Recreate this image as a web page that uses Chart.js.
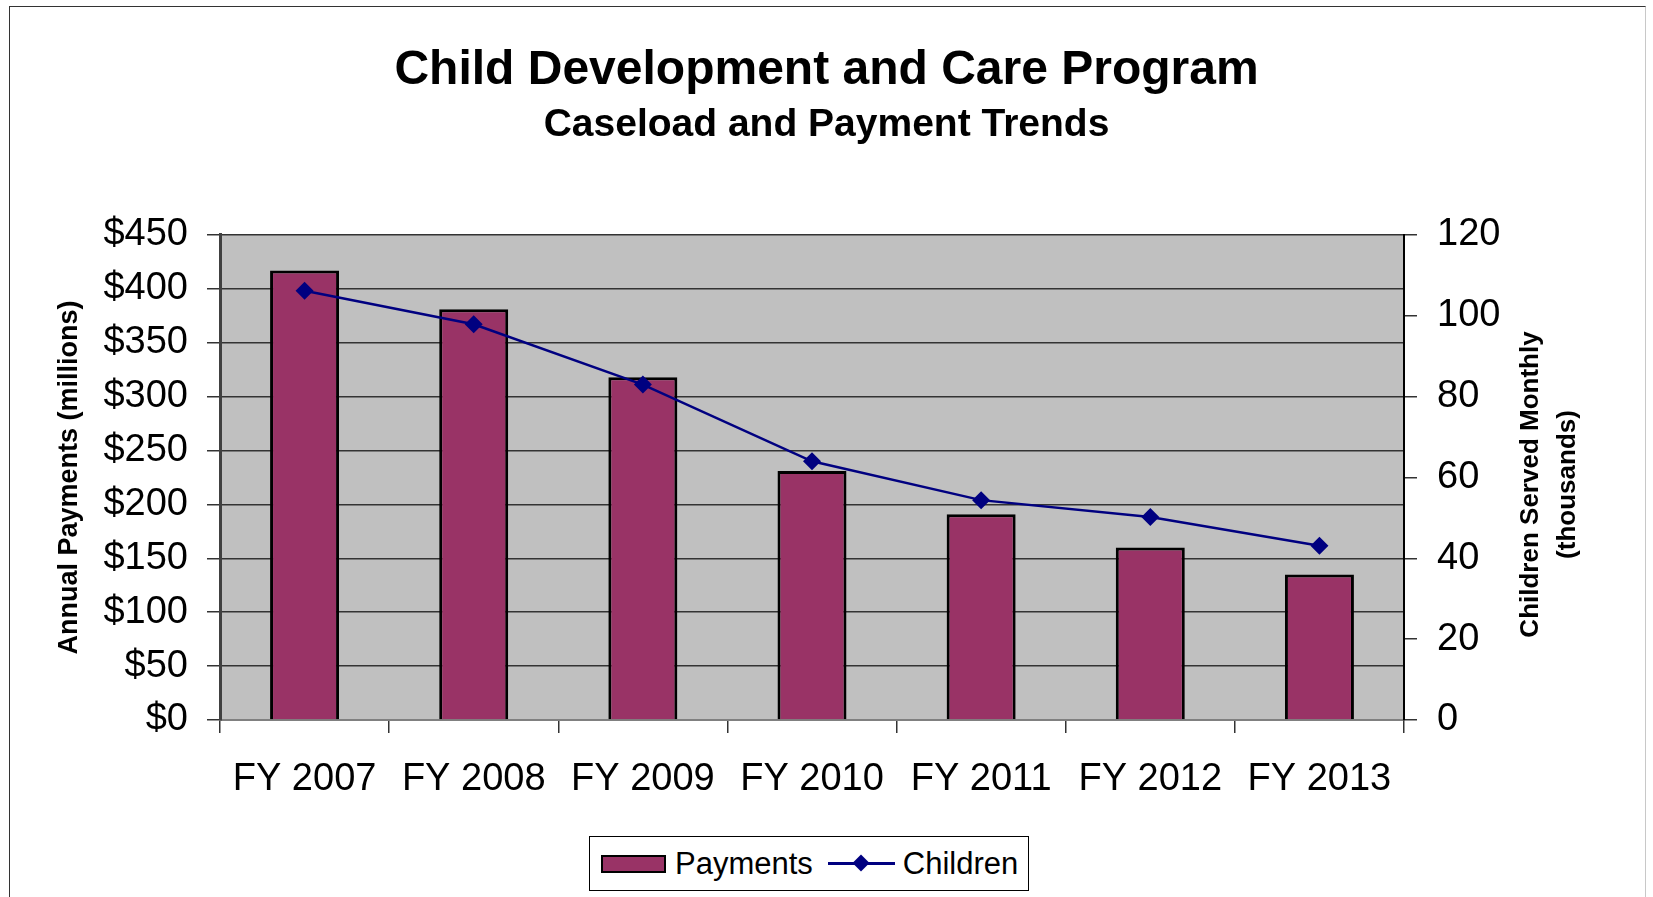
<!DOCTYPE html>
<html>
<head>
<meta charset="utf-8">
<title>Child Development and Care Program</title>
<script src="https://cdn.jsdelivr.net/npm/chart.js@4.4.1/dist/chart.umd.min.js"></script>
<style>
    body { margin: 0; background: #ffffff; font-family: 'Liberation Sans', Arial, sans-serif; }
    #frame {
        position: absolute; left: 9px; top: 6px; width: 1635px; height: 1000px;
        border-left: 1.5px solid #333; border-top: 1.5px solid #333; border-right: 1.5px solid #c8c8c8;
    }
    #wrap { position: absolute; left: 0; top: 0; width: 1653px; height: 897px; }
    #legend {
        position: absolute; left: 589px; top: 836px; width: 438px; height: 53px;
        border: 1.5px solid #000; background: #fff;
        display: flex; align-items: center; font-size: 31px; color: #000;
    }
    .swatch { width: 61px; height: 14px; border: 2px solid #000; margin-left: 11px; margin-right: 9px; }
    .linekey { position: relative; width: 67px; height: 3px; margin-left: 15px; margin-right: 8px; }
    .linekey .diamond {
        position: absolute; left: 27px; top: -5px; width: 12px; height: 12px; transform: rotate(45deg);
    }
</style>
</head>
<body>
<div id="frame"></div>
<div id="wrap"><canvas id="chart"></canvas></div>
<div id="legend"></div>
<script>
// Caseload and payment trends, FY 2007 - FY 2013

const years = ['FY 2007', 'FY 2008', 'FY 2009', 'FY 2010', 'FY 2011', 'FY 2012', 'FY 2013'];
const payments = [417, 381, 318, 231, 191, 160, 135];          // $ millions
const children = [106.2, 97.9, 83.0, 64.0, 54.4, 50.2, 43.1];   // thousands per month

const paymentTicks = { min: 0, max: 450, step: 50 };
const childrenTicks = { min: 0, max: 120, step: 20 };

const barColor = '#993366';
const lineColor = '#000080';

Chart.defaults.font.family = "'Liberation Sans', Arial, sans-serif";
Chart.defaults.color = '#000000';

const plotBackground = {
    id: 'plotBackground',
    beforeDraw(chart) {
        const { ctx, chartArea } = chart;
        ctx.save();
        ctx.fillStyle = '#c0c0c0';
        ctx.fillRect(chartArea.left, chartArea.top, chartArea.right - chartArea.left, chartArea.bottom - chartArea.top);
        ctx.restore();
    }
};

// right axis title reads bottom-to-top like the left one
const rightTitle = {
    id: 'rightTitle',
    afterDraw(chart) {
        const { ctx, chartArea } = chart;
        const scale = chart.scales.y1;
        const cx = scale.left + 127;
        const cy = (chartArea.top + chartArea.bottom) / 2 + 7;
        ctx.save();
        ctx.translate(cx, cy);
        ctx.rotate(-Math.PI / 2);
        ctx.font = "bold 26px 'Liberation Sans', Arial, sans-serif";
        ctx.fillStyle = '#000';
        ctx.textAlign = 'center';
        ctx.textBaseline = 'middle';
        ctx.fillText('Children Served Monthly', 0, 0);
        ctx.fillText('(thousands)', 0, 37);
        ctx.restore();
    }
};

const chart = new Chart(document.getElementById('chart'), {
    data: {
        labels: years,
        datasets: [
            {
                type: 'bar',
                label: 'Payments',
                data: payments,
                yAxisID: 'y',
                backgroundColor: barColor,
                borderColor: '#000000',
                borderWidth: 3,
                barPercentage: 0.408,
                categoryPercentage: 1,
                order: 2
            },
            {
                type: 'line',
                label: 'Children',
                data: children,
                yAxisID: 'y1',
                borderColor: lineColor,
                borderWidth: 2.5,
                tension: 0,
                pointStyle: 'rectRot',
                pointRadius: 9,
                pointBackgroundColor: lineColor,
                pointBorderColor: lineColor,
                pointBorderWidth: 0,
                order: 1
            }
        ]
    },
    options: {
        responsive: true,
        maintainAspectRatio: false,
        animation: false,
        layout: { padding: 0 },
        plugins: {
            legend: { display: false },
            tooltip: { enabled: false },
            title: {
                display: true,
                text: 'Child Development and Care Program',
                font: { size: 48, weight: 'bold' },
                padding: { top: 42, bottom: 0 }
            },
            subtitle: {
                display: true,
                text: 'Caseload and Payment Trends',
                color: '#000',
                font: { size: 39, weight: 'bold' },
                padding: { top: 2, bottom: 86.6 }
            }
        },
        scales: {
            x: {
                offset: true,
                grid: { offset: true, drawOnChartArea: false, drawTicks: true, tickLength: 13, color: '#333', lineWidth: 1.5 },
                border: { color: '#808080', width: 2 },
                ticks: { font: { size: 38 }, padding: 24, maxRotation: 0, autoSkip: false },
                afterFit(scale) { scale.height = 177; }
            },
            y: {
                position: 'left',
                min: paymentTicks.min,
                max: paymentTicks.max,
                ticks: {
                    stepSize: paymentTicks.step,
                    font: { size: 38 },
                    padding: 19,
                    callback: v => '$' + v
                },
                grid: { color: '#333', lineWidth: 1.5, tickLength: 13 },
                border: { color: '#404040', width: 3 },
                title: {
                    display: true,
                    text: 'Annual Payments (millions)',
                    font: { size: 27, weight: 'bold' },
                    padding: { top: 53, bottom: 0 }
                },
                afterFit(scale) { scale.width = 220; }
            },
            y1: {
                position: 'right',
                min: childrenTicks.min,
                max: childrenTicks.max,
                ticks: { stepSize: childrenTicks.step, font: { size: 38 }, padding: 20 },
                grid: { drawOnChartArea: false, color: '#333', lineWidth: 1.5, tickLength: 13 },
                border: { color: '#000', width: 2 },
                afterFit(scale) { scale.width = 249; }
            }
        }
    },
    plugins: [plotBackground, rightTitle]
});

function buildLegend(chart) {
    const legend = document.getElementById('legend');
    legend.innerHTML = chart.data.datasets.map(ds => {
        if (ds.type === 'bar') {
            return `<div class="swatch" style="background:${ds.backgroundColor}"></div><span>${ds.label}</span>`;
        }
        return `<div class="linekey" style="background:${ds.borderColor}">
                    <div class="diamond" style="background:${ds.pointBackgroundColor}"></div>
                </div><span>${ds.label}</span>`;
    }).join('');
}

buildLegend(chart);
</script>
</body>
</html>
